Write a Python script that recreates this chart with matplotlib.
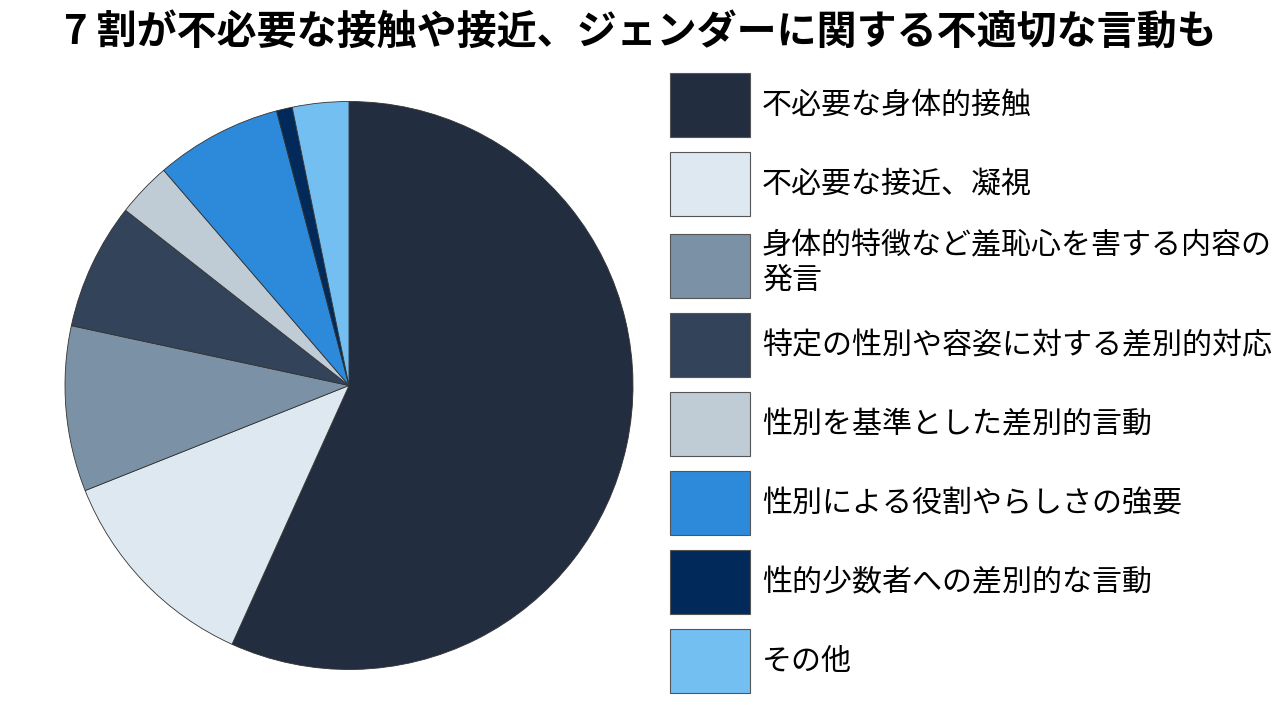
"""Pie chart: breakdown of reported harassment types."""

import matplotlib

matplotlib.use("Agg")
import matplotlib.pyplot as plt

plt.rcParams["font.family"] = ["Noto Sans CJK JP", "DejaVu Sans"]

TITLE = "7 割が不必要な接触や接近、ジェンダーに関する不適切な言動も"
CATEGORIES = [
    "不必要な身体的接触",
    "不必要な接近、凝視",
    "身体的特徴など羞恥心を害する内容の\n発言",
    "特定の性別や容姿に対する差別的対応",
    "性別を基準とした差別的言動",
    "性別による役割やらしさの強要",
    "性的少数者への差別的な言動",
    "その他",
]
SHARES = [56.7, 12.2, 9.4, 7.2, 3.1, 7.2, 0.9, 3.2]
COLORS = [
    "#222e3f",
    "#dde8f1",
    "#7b91a6",
    "#33435a",
    "#bfccd6",
    "#2d89d9",
    "#012a5a",
    "#74bff2",
]

W, H = 1280, 720
fig = plt.figure(figsize=(W / 100, H / 100), dpi=100)

cx, cy, r = 349, 385.5, 284
ax = fig.add_axes([(cx - r) / W, (H - cy - r) / H, 2 * r / W, 2 * r / H])
wedges, _ = ax.pie(
    SHARES,
    colors=COLORS,
    startangle=90,
    counterclock=False,
    wedgeprops={"edgecolor": "#333333", "linewidth": 0.6},
)
ax.set_xlim(-1, 1)
ax.set_ylim(-1, 1)
ax.set_aspect("equal")

fig.text(0.5, 1 - 33 / H, TITLE, ha="center", va="center",
         fontsize=28.8, fontweight="bold")

# legend sizes in units of the font size (21.6pt = 30px)
fs = 21.6
leg = fig.legend(
    wedges,
    CATEGORIES,
    loc="upper left",
    bbox_to_anchor=(670 / W, 1 - 73 / H),
    frameon=False,
    fontsize=fs,
    handlelength=2.67,
    handleheight=2.9,
    labelspacing=0.5,
    handletextpad=0.4,
    borderpad=0,
    borderaxespad=0,
)
for h in leg.legend_handles:
    h.set_edgecolor("#555555")
    h.set_linewidth(0.8)
for t in leg.get_texts():
    t.set_linespacing(1.12)

fig.savefig("out.png", dpi=100)
